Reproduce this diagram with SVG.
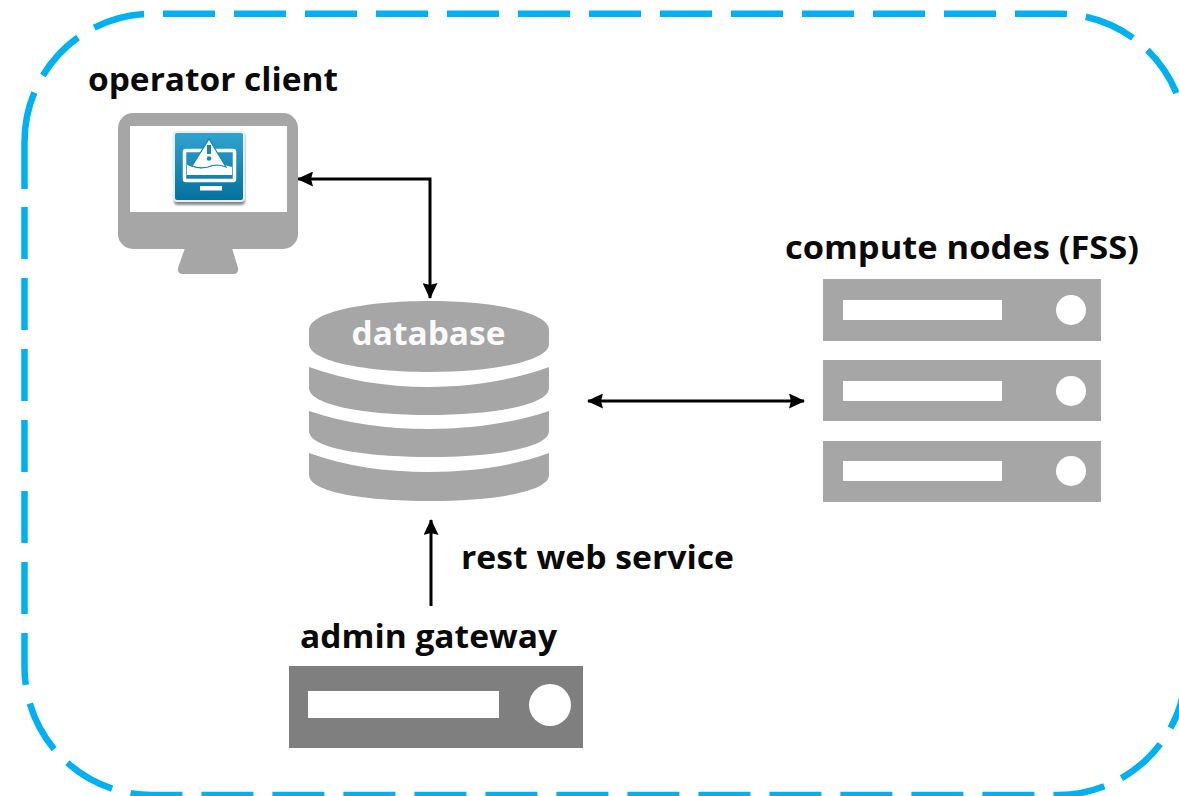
<svg xmlns="http://www.w3.org/2000/svg" width="1179" height="796" viewBox="0 0 1179 796">
<style>
.lbl{font-family:"Open Sans","Noto Sans",sans-serif;font-weight:700;font-size:33px;fill:#0a0a0a}
.g{fill:#a6a6a6}
.w{fill:#fff}
.c{fill:none;stroke:#000;stroke-width:3}
.b{fill:none;stroke:#00b0f0;stroke-width:6.500}
</style>
<defs>
<marker id="ah" viewBox="0 0 16 15" refX="15" refY="7.500" markerWidth="16" markerHeight="15" markerUnits="userSpaceOnUse" orient="auto-start-reverse"><path d="M0,0L16,7.500L0,15L2,7.500Z" fill="#000"/></marker>
<linearGradient id="ig" x1="0" y1="0" x2="0" y2="1"><stop offset="0" stop-color="#2fa3cf"/><stop offset="1" stop-color="#05719f"/></linearGradient>
<filter id="sh" x="-20%" y="-20%" width="140%" height="140%"><feGaussianBlur stdDeviation="1.200"/></filter>
</defs>
<rect width="1179" height="796" fill="#fff"/>
<g id="border">
<path class="b" stroke-dasharray="52 19" d="M163,13.700H1058A128,128 0 0 1 1186,141.700"/>
<path class="b" stroke-dasharray="0 8 52 19 52 19 98 999" d="M152,13.700A127.500,128 0 0 0 24.500,141.700V300"/>
<path class="b" stroke-dasharray="52 19" d="M24.500,207V667A127.500,128 0 0 0 152,795H1058A128,128 0 0 0 1186,667"/>
</g>
<g id="connectors">
<path class="c" marker-start="url(#ah)" marker-end="url(#ah)" d="M298,179H430V298"/>
<path class="c" marker-start="url(#ah)" marker-end="url(#ah)" d="M588,401H804"/>
<path class="c" marker-end="url(#ah)" d="M431,606V520"/>
</g>
<g id="operator-client">
<path class="g" d="M185,248L178,268Q177,274 183,274H233Q239,274 238,268L232,248Z"/>
<rect class="g" x="118" y="113" width="180" height="136" rx="15"/>
<rect class="w" x="130" y="126" width="157" height="86"/>
<rect x="174" y="133" width="71" height="72" rx="4" fill="#8a8a8a" filter="url(#sh)"/>
<rect x="173" y="131" width="72" height="71" rx="4" fill="#ececec"/>
<rect x="175" y="133" width="68" height="67" rx="2" fill="url(#ig)"/>
<g id="icon-glyph">
<rect x="184.500" y="150.500" width="50" height="30" rx="1.500" fill="none" stroke="#fff" stroke-width="3.500"/>
<path class="w" d="M187,165Q198,170 209,167Q220,163 232,167V175H187Z"/>
<path class="w" stroke="#1b85b0" stroke-width="1.200" d="M209,139L226,167Q216,163 208,167Q200,169 192,166Z"/>
<rect class="w" x="200" y="186" width="22" height="4.500"/>
<rect x="207" y="145" width="4" height="9" fill="#1b85b0"/>
<circle cx="209" cy="158.500" r="2.300" fill="#1b85b0"/>
</g>
<text class="lbl" x="88" y="91" textLength="250" lengthAdjust="spacingAndGlyphs">operator client</text>
</g>
<g id="database">
<path class="g" d="M309,330C309,312 365,301 429,301C493,301 549,312 549,330V344C549,361 493,372 429,372C365,372 309,361 309,344Z"/>
<path class="g" d="M309,367C345,380 385,387 429,387C473,387 513,380 549,367V388C549,405 493,415 429,415C365,415 309,405 309,388Z"/>
<path class="g" d="M309,411C345,423 385,429 429,429C473,429 513,423 549,411V431C549,448 493,457 429,457C365,457 309,448 309,431Z"/>
<path class="g" d="M309,453C345,466 385,472 429,472C473,472 513,466 549,453V475C549,492 493,501 429,501C365,501 309,492 309,475Z"/>
<text x="428.500" y="345" text-anchor="middle" textLength="154" lengthAdjust="spacingAndGlyphs" style="font-family:'Open Sans','Noto Sans',sans-serif;font-weight:700;font-size:33px;fill:#fafafa">database</text>
</g>
<g id="compute-nodes">
<rect class="g" x="823" y="279" width="278" height="62"/>
<rect class="w" x="843" y="300" width="159" height="20"/>
<circle class="w" cx="1071" cy="310" r="15"/>
<rect class="g" x="823" y="360" width="278" height="61"/>
<rect class="w" x="843" y="381" width="159" height="20"/>
<circle class="w" cx="1071" cy="391" r="15"/>
<rect class="g" x="823" y="441" width="278" height="61"/>
<rect class="w" x="843" y="461" width="159" height="20"/>
<circle class="w" cx="1071" cy="471" r="15"/>
<text class="lbl" x="785" y="259" textLength="354" lengthAdjust="spacingAndGlyphs">compute nodes (FSS)</text>
</g>
<g id="admin-gateway">
<rect x="289" y="666" width="294" height="82" fill="#7f7f7f"/>
<rect class="w" x="308" y="691" width="191" height="27"/>
<circle class="w" cx="550" cy="705" r="21"/>
<text class="lbl" x="300" y="648" textLength="257" lengthAdjust="spacingAndGlyphs">admin gateway</text>
</g>
<text id="rest-label" class="lbl" x="461" y="569" textLength="273" lengthAdjust="spacingAndGlyphs">rest web service</text>
</svg>
